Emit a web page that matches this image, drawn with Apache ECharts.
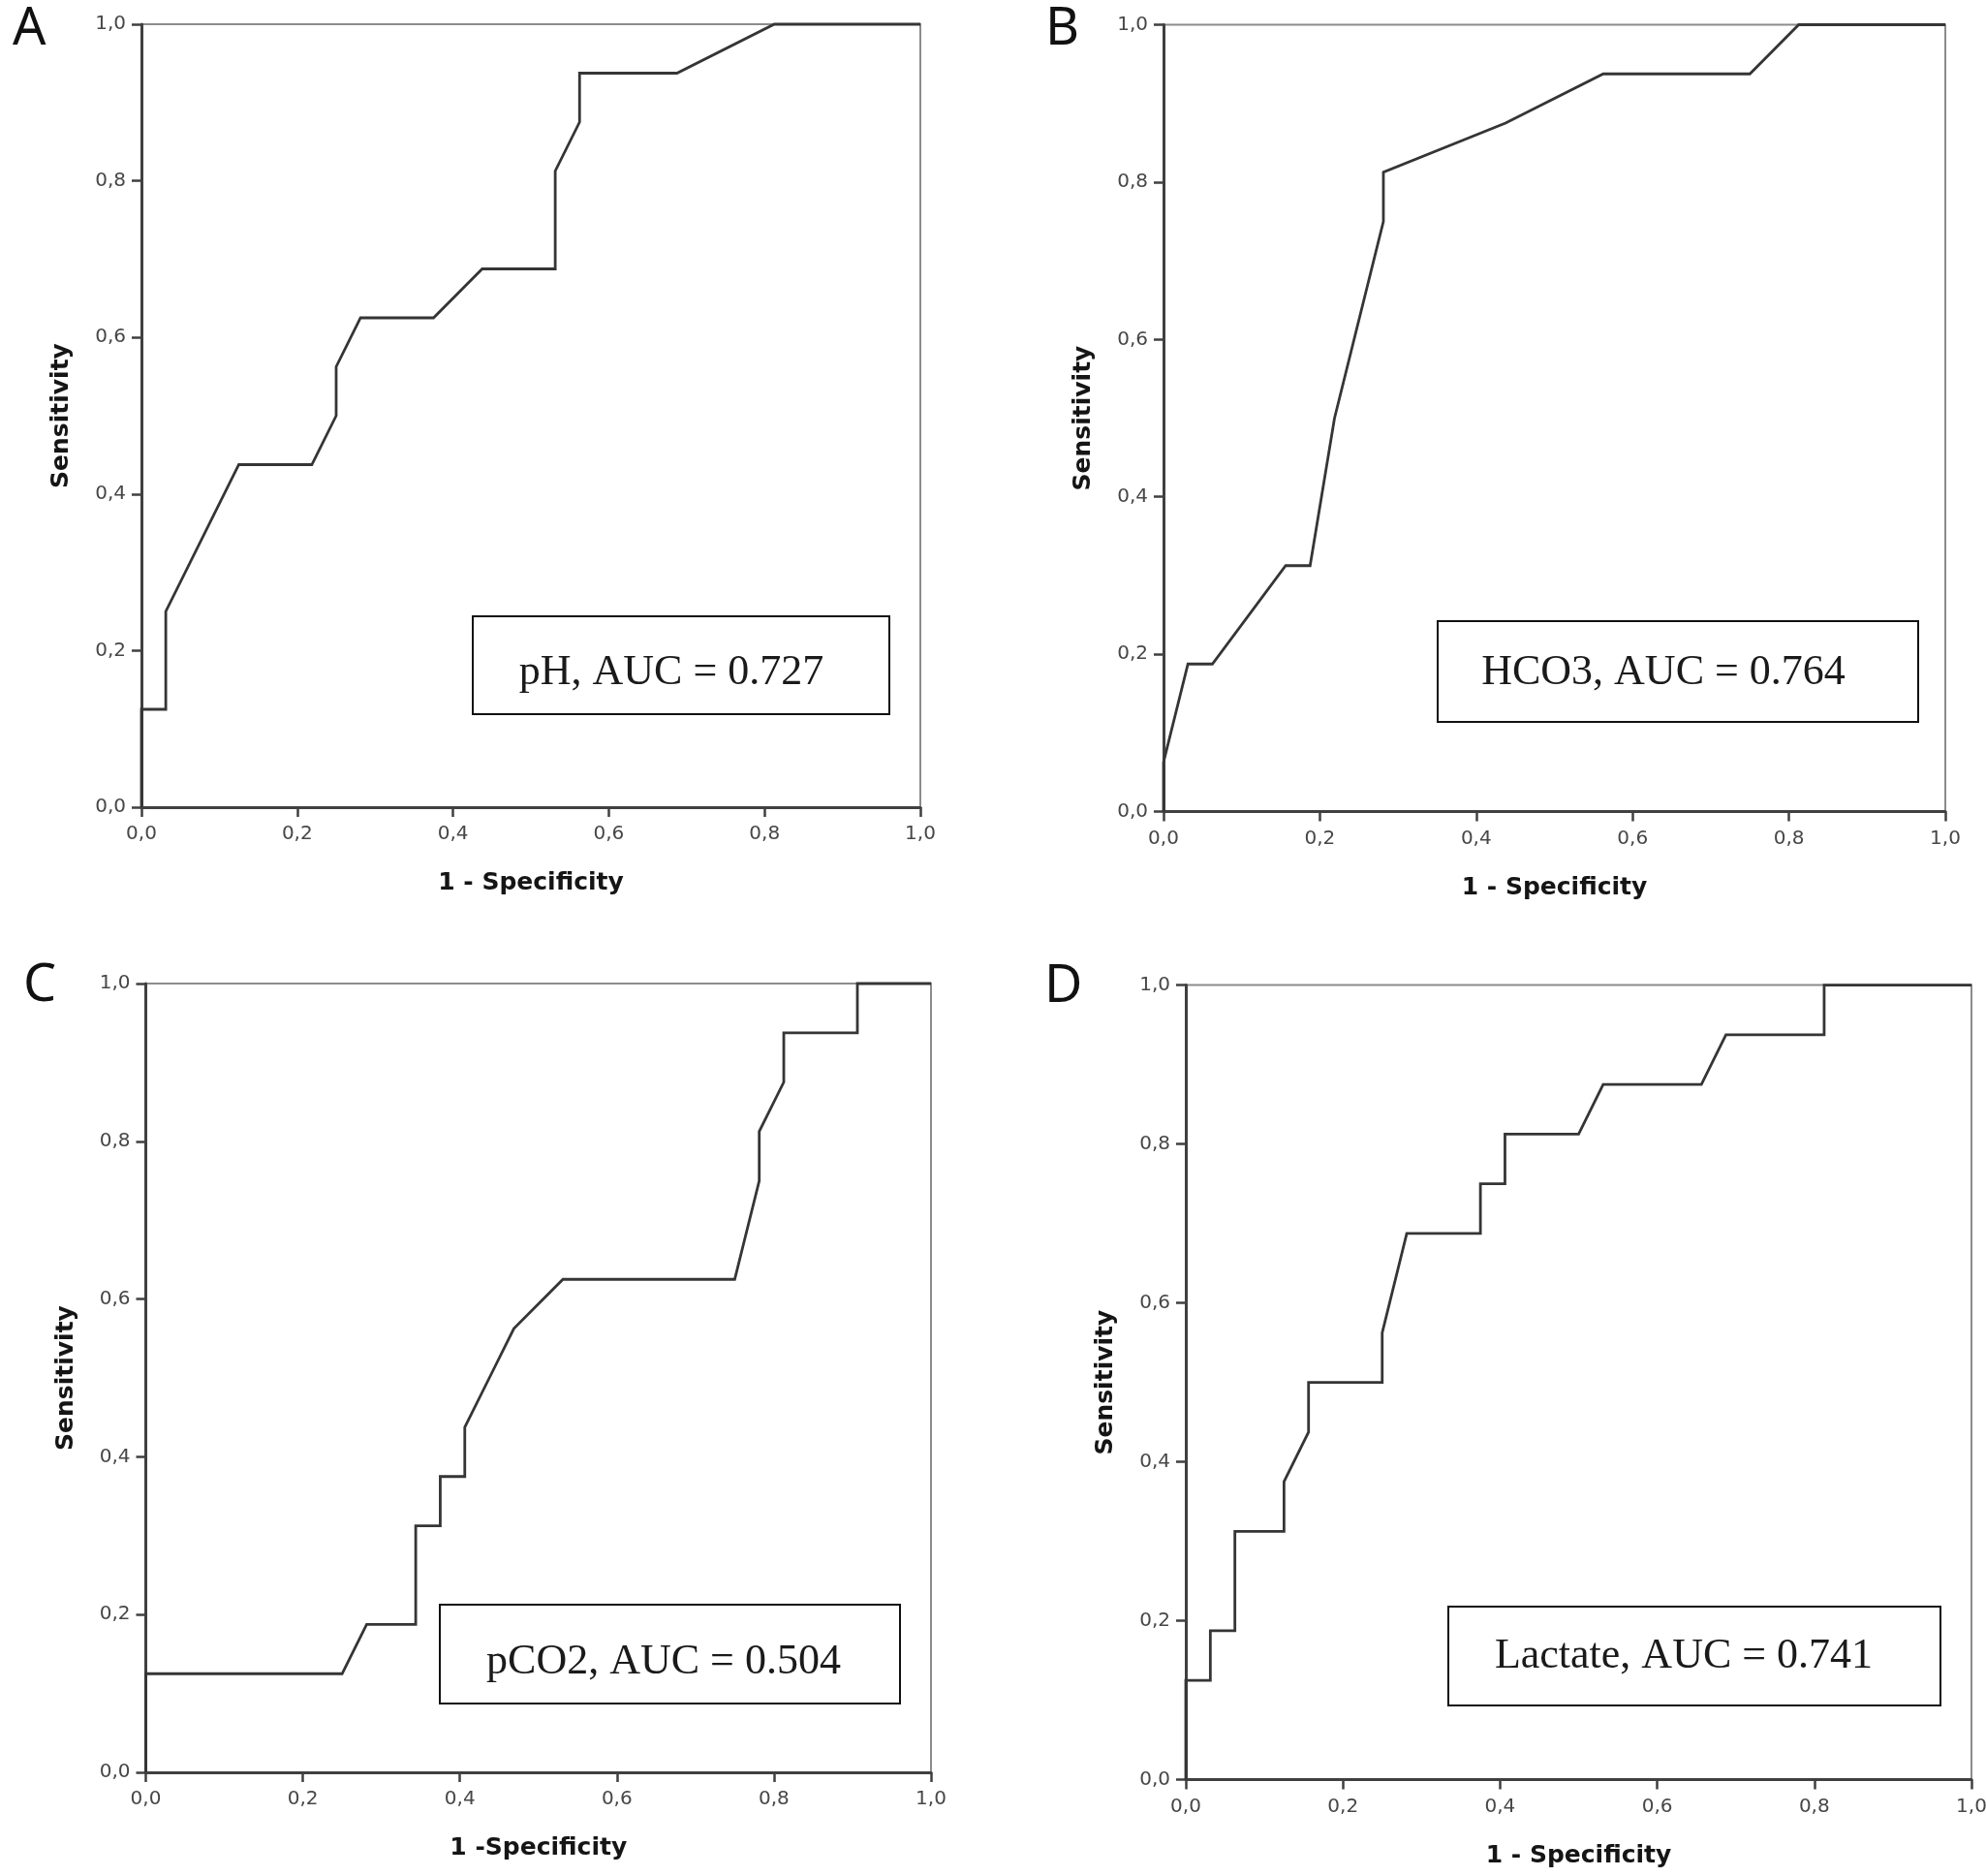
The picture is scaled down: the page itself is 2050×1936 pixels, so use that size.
<!DOCTYPE html>
<html><head><meta charset="utf-8">
<script src="https://cdn.jsdelivr.net/npm/echarts@6/dist/echarts.min.js"></script>
<style>html,body{margin:0;padding:0;background:#fff}#c{width:2050px;height:1936px}</style>
</head><body><div id="c"></div>
<script>
// ---- data ----
const panelLetters = ['A', 'B', 'C', 'D'];
const xTitles = ['1 - Specificity', '1 - Specificity', '1 -Specificity', '1 - Specificity'];
const yTitle = 'Sensitivity';
const tickLabels = ['0,0', '0,2', '0,4', '0,6', '0,8', '1,0'];
const aucLabels = ['pH, AUC = 0.727', 'HCO3, AUC = 0.764', 'pCO2, AUC = 0.504', 'Lactate, AUC = 0.741'];

const phFpr = [0, 0, 0.03125, 0.03125, 0.125, 0.21875, 0.25, 0.25, 0.28125, 0.375, 0.4375, 0.53125, 0.53125, 0.5625, 0.5625, 0.6875, 0.8125, 1];
const phTpr = [0, 0.125, 0.125, 0.25, 0.4375, 0.4375, 0.5, 0.5625, 0.625, 0.625, 0.6875, 0.6875, 0.8125, 0.875, 0.9375, 0.9375, 1, 1];

const hco3Fpr = [0, 0, 0.03125, 0.0625, 0.15625, 0.1875, 0.21875, 0.28125, 0.28125, 0.4375, 0.5625, 0.75, 0.8125, 1];
const hco3Tpr = [0, 0.0625, 0.1875, 0.1875, 0.3125, 0.3125, 0.5, 0.75, 0.8125, 0.875, 0.9375, 0.9375, 1, 1];

const pco2Fpr = [0, 0, 0.25, 0.28125, 0.34375, 0.34375, 0.375, 0.375, 0.40625, 0.40625, 0.4375, 0.46875, 0.53125, 0.75, 0.78125, 0.78125, 0.8125, 0.8125, 0.90625, 0.90625, 1];
const pco2Tpr = [0, 0.125, 0.125, 0.1875, 0.1875, 0.3125, 0.3125, 0.375, 0.375, 0.4375, 0.5, 0.5625, 0.625, 0.625, 0.75, 0.8125, 0.875, 0.9375, 0.9375, 1, 1];

const lactateFpr = [0, 0, 0.03125, 0.03125, 0.0625, 0.0625, 0.125, 0.125, 0.15625, 0.15625, 0.25, 0.25, 0.28125, 0.375, 0.375, 0.40625, 0.40625, 0.5, 0.53125, 0.65625, 0.6875, 0.8125, 0.8125, 1];
const lactateTpr = [0, 0.125, 0.125, 0.1875, 0.1875, 0.3125, 0.3125, 0.375, 0.4375, 0.5, 0.5, 0.5625, 0.6875, 0.6875, 0.75, 0.75, 0.8125, 0.8125, 0.875, 0.875, 0.9375, 0.9375, 1, 1];

const curves = [[phFpr, phTpr], [hco3Fpr, hco3Tpr], [pco2Fpr, pco2Tpr], [lactateFpr, lactateTpr]];

// ---- layout (pixels) ----
const grids = [
  { left: 146, top: 25, width: 804, height: 808 },
  { left: 1201, top: 25.5, width: 807, height: 812 },
  { left: 150.5, top: 1015, width: 810.5, height: 814 },
  { left: 1224, top: 1016.6, width: 811, height: 820 }
];
const boxes = [
  { x: 488, y: 636, w: 430, h: 101, tx: 693, ty: 694 },
  { x: 1484, y: 641, w: 496, h: 104, tx: 1717, ty: 694 },
  { x: 454, y: 1656, w: 475, h: 102, tx: 685, ty: 1715 },
  { x: 1495, y: 1658, w: 508, h: 102, tx: 1738, ty: 1709 }
];
const letterPos = [[13, 31], [1079, 30.5], [24, 1018], [1078, 1019]];

const AXIS_COLOR = '#404040';
const fmt = v => tickLabels[Math.round(v * 5)];

const option = {
  animation: false,
  backgroundColor: '#fff',
  grid: grids.map(g => Object.assign({ show: true, borderColor: '#8c8c8c', borderWidth: 2, backgroundColor: 'transparent', outerBoundsMode: 'none', containLabel: false }, g)),
  xAxis: grids.map((g, i) => ({
    type: 'value', gridIndex: i, min: 0, max: 1, interval: 0.2,
    name: xTitles[i], nameLocation: 'middle', nameGap: 66,
    nameTextStyle: { fontFamily: 'DejaVu Sans', fontWeight: 'bold', fontSize: 25, color: '#151515' },
    axisLine: { show: true, onZero: false, lineStyle: { color: AXIS_COLOR, width: 3 } },
    axisTick: { show: true, inside: false, length: 10, lineStyle: { color: AXIS_COLOR, width: 2.5 } },
    axisLabel: { margin: 18, fontFamily: 'DejaVu Sans', fontSize: 20, color: '#474747', formatter: fmt, showMinLabel: true, showMaxLabel: true },
    splitLine: { show: false }
  })),
  yAxis: grids.map((g, i) => ({
    type: 'value', gridIndex: i, min: 0, max: 1, interval: 0.2,
    name: yTitle, nameLocation: 'middle', nameGap: 70, nameRotate: 90,
    nameTextStyle: { fontFamily: 'DejaVu Sans', fontWeight: 'bold', fontSize: 25, color: '#151515' },
    axisLine: { show: true, onZero: false, lineStyle: { color: AXIS_COLOR, width: 3 } },
    axisTick: { show: true, inside: false, length: 10, lineStyle: { color: AXIS_COLOR, width: 2.5 } },
    axisLabel: { margin: 16, fontFamily: 'DejaVu Sans', fontSize: 20, color: '#474747', formatter: fmt, showMinLabel: true, showMaxLabel: true },
    splitLine: { show: false }
  })),
  series: curves.map((c, i) => ({
    type: 'line', xAxisIndex: i, yAxisIndex: i,
    data: c[0].map((x, k) => [x, c[1][k]]),
    showSymbol: false, symbol: 'none', clip: false, z: 5,
    lineStyle: { color: '#353535', width: 2.8, join: 'miter' }
  })),
  graphic: [].concat(
    boxes.map((b, i) => ({
      type: 'group', z: 20, children: [
        { type: 'rect', shape: { x: b.x, y: b.y, width: b.w, height: b.h }, style: { fill: '#fff', stroke: '#111', lineWidth: 2 } },
        { type: 'text', style: { x: b.tx, y: b.ty, text: aucLabels[i], align: 'center', verticalAlign: 'middle', font: '44px "Liberation Serif"', fill: '#1a1a1a' } }
      ]
    })),
    panelLetters.map((L, i) => ({
      type: 'text', z: 20,
      style: { x: letterPos[i][0], y: letterPos[i][1], text: L, align: 'left', verticalAlign: 'middle', font: '54px "Noto Sans"', fill: '#111' }
    }))
  )
};

const chart = echarts.init(document.getElementById('c'), null, { renderer: 'canvas', width: 2050, height: 1936 });
chart.setOption(option);
</script>
</body></html>
